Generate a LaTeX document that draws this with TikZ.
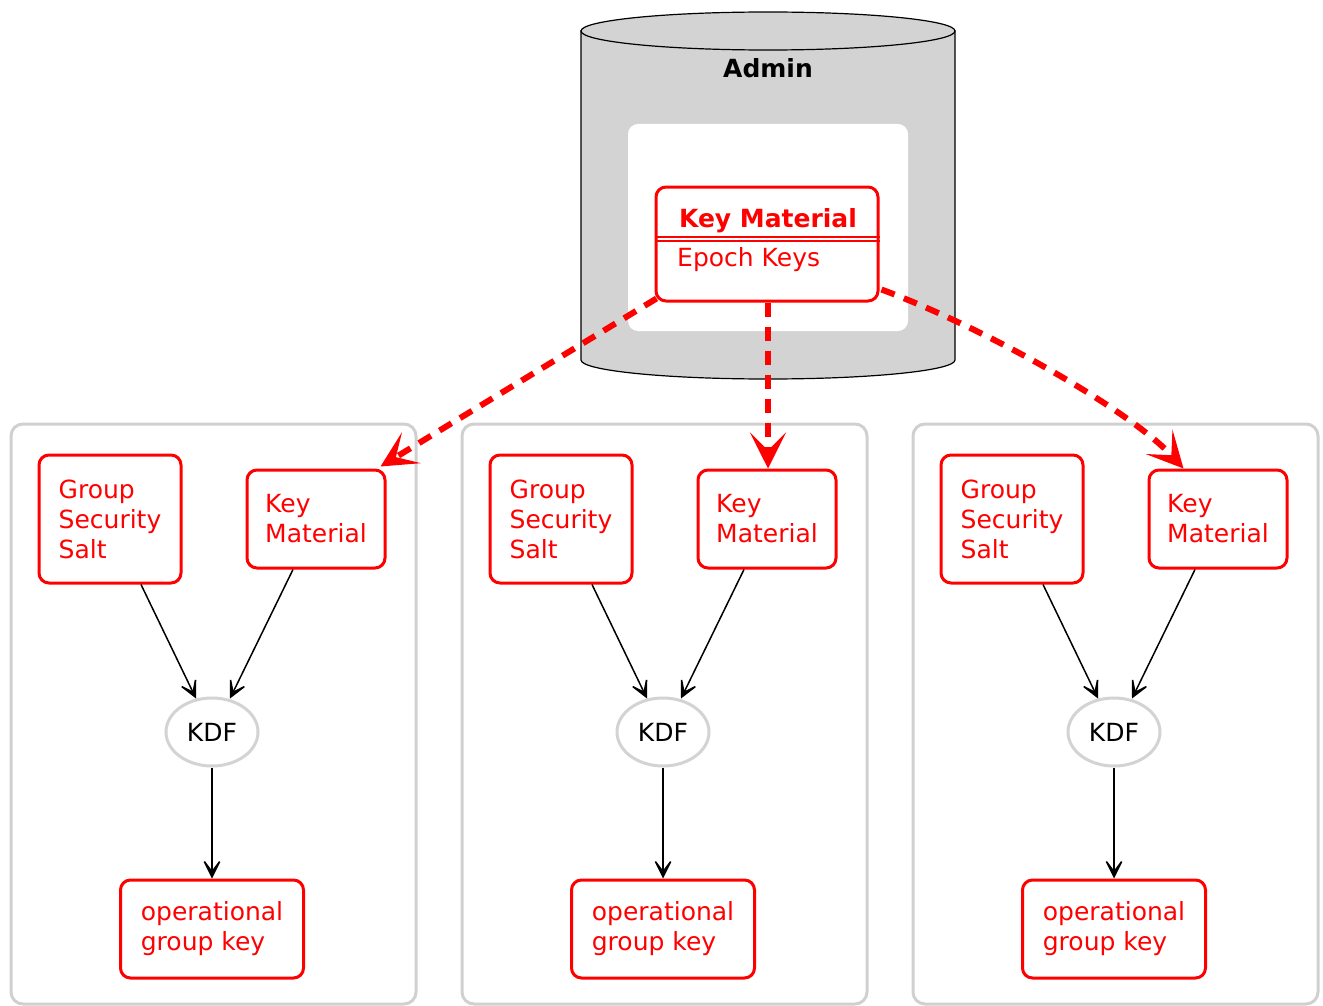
\documentclass[tikz,border=0pt]{standalone}
\usepackage{fontspec}
\setmainfont{DejaVu Sans}
\usetikzlibrary{shapes.geometric,arrows.meta,calc}
\definecolor{cylgray}{HTML}{D3D3D3}
\definecolor{clgray}{HTML}{D0D0D0}
\definecolor{kred}{HTML}{FF0000}
\tikzset{
  x=1pt, y=-1pt,
  redbox/.style={draw=kred, line width=3pt, rounded corners=10pt, fill=white,
    text=kred, align=left, inner sep=0pt, font=\fontsize{25}{30}\selectfont},
  kdfnode/.style={ellipse, draw=cylgray, line width=3pt, fill=white,
    minimum width=92pt, minimum height=68pt, inner sep=0pt,
    font=\fontsize{25}{30}\selectfont},
  clusterbox/.style={draw=clgray, line width=3pt, rounded corners=12pt},
  blackarrow/.style={draw=black, line width=1.5pt,
    -{Stealth[length=24pt,width=24pt,inset=16pt]}},
  redarrow/.style={draw=kred, line width=6pt, dash pattern=on 14pt off 10pt,
    -{Stealth[length=36pt,width=36pt,inset=18pt]}},
}
\begin{document}
\begin{tikzpicture}
\useasboundingbox (0,0) rectangle (1323,1006);
% cylinder
\path[fill=cylgray, draw=black, line width=1.2pt]
  (581,31) -- (581,360) arc[start angle=180, end angle=0, x radius=187, y radius=19]
  -- (955,31) -- cycle;
\draw[line width=1.2pt, fill=cylgray] (768,31) ellipse[x radius=187, y radius=19];
\node[font=\fontsize{25}{30}\selectfont\bfseries] (admin) at (768,68) {Admin};
\node[fill=white, rounded corners=10pt, minimum width=280pt, minimum height=207pt, inner sep=0pt] (inner) at (768,227.5) {};
% record node
\node[draw=kred, line width=3pt, rounded corners=10pt, fill=white,
  minimum width=222pt, minimum height=114pt, inner sep=0pt] (km0) at (767,244) {};
\draw[kred, line width=2pt] (km0.west |- 0,236.5) -- (km0.east |- 0,236.5);
\draw[kred, line width=2pt] (km0.west |- 0,241) -- (km0.east |- 0,241);
\node[text=kred, font=\fontsize{25}{30}\selectfont\bfseries, inner sep=0pt] (kmtitle) at (768,221) {Key Material};
\node[text=kred, font=\fontsize{25}{30}\selectfont, anchor=west, inner sep=0pt] (kmfield) at (677,260) {Epoch Keys};
% clusters
\foreach \i/\dx in {a/0, b/451, c/902} {
  \begin{scope}[xshift=\dx]
    \draw[clusterbox] (11,424) rectangle (416,1004);
    \node[redbox, minimum width=142pt, minimum height=128pt] (gss\i) at (110,519) {Group\\Security\\Salt};
    \node[redbox, minimum width=138pt, minimum height=98pt] (km\i) at (316,519) {Key\\Material};
    \node[kdfnode] (kdf\i) at (212,732) {KDF};
    \node[redbox, minimum width=183pt, minimum height=98pt] (ogk\i) at (212,929) {operational\\group key};
    \draw[blackarrow] ($(gss\i.south)+(31,0)$) -- ($(kdf\i.north)+(-16,2)$);
    \draw[blackarrow] ($(km\i.south)+(-23,0)$) -- ($(kdf\i.north)+(18,2)$);
    \draw[blackarrow] (kdf\i.south) -- (ogk\i.north);
  \end{scope}
}
% red dashed arrows
\draw[redarrow] ($(km0.south west)+(2,-4)$) -- ($(kma.north east)+(-6,-2)$);
\draw[redarrow] ($(km0.south)+(1,0)$) -- ($(kmb.north)+(1,0)$);
\draw[redarrow] ($(km0.south east)+(2,-13)$) .. controls (985,328) and (1130,410) .. ($(kmc.north west)+(36,0)$);
\end{tikzpicture}
\end{document}
